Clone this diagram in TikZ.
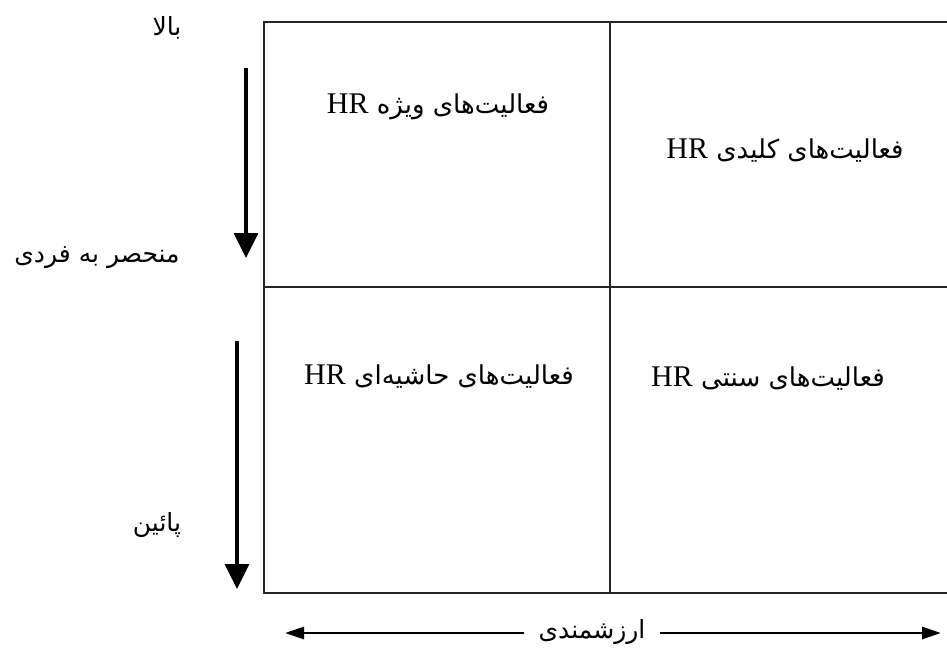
\documentclass[tikz,border=0pt]{standalone}
\usepackage{fontspec}
\setmainfont{Liberation Serif}
\newfontfamily\arabicfont[Script=Arabic]{DejaVu Sans}
\TeXXeTstate=1
\usetikzlibrary{arrows.meta}
\newcommand{\hrtag}{\beginL{\rmfamily\fontsize{30}{34}\selectfont HR}\endL}
\tikzset{
  grid line/.style={line width=1.8pt, draw=black!85},
  big arrow/.style={line width=3.4pt, -{Triangle[length=25pt,width=24pt]}},
  axis arrow/.style={line width=2.8pt, -{Triangle[length=19pt,width=12pt]}},
  celltext/.style={font=\fontsize{26}{32}\selectfont, inner sep=0pt},
  sidelabel/.style={font=\arabicfont\fontsize{25}{30}\selectfont, inner sep=0pt},
}
\begin{document}
\begin{tikzpicture}[x=1pt,y=-1pt]
\useasboundingbox (0,0) rectangle (947,654);
% grid
\coordinate (tl) at (264,22);
\coordinate (tr) at (947,22);
\coordinate (bl) at (264,593);
\coordinate (br) at (947,593);
\coordinate (ml) at (264,287);
\coordinate (mr) at (947,287);
\coordinate (mt) at (610,22);
\coordinate (mb) at (610,593);
\draw[grid line] (tr) -- (tl) -- (bl) -- (br);
\draw[grid line] (ml) -- (mr);
\draw[grid line] (mt) -- (mb);
% cell texts
\node[celltext] (c1) at (438,107) {\arabicfont\beginR فعالیت‌های ویژه \hrtag\endR};
\node[celltext] (c2) at (785,151) {\arabicfont\beginR فعالیت‌های کلیدی \hrtag\endR};
\node[celltext] (c3) at (439,377) {\arabicfont\beginR فعالیت‌های حاشیه‌ای \hrtag\endR};
\node[celltext] (c4) at (768,379) {\arabicfont\beginR فعالیت‌های سنتی \hrtag\endR};
% side labels
\node[sidelabel] (up) at (167,28) {\beginR بالا\endR};
\node[sidelabel] (uniq) at (97,258) {\beginR منحصر به فردی\endR};
\node[sidelabel] (down) at (157,525) {\beginR پائین\endR};
% vertical arrows
\coordinate (a1s) at (246,68);
\coordinate (a1e) at (246,258);
\coordinate (a2s) at (237,341);
\coordinate (a2e) at (237,589);
\draw[big arrow] (a1s) -- (a1e);
\draw[big arrow] (a2s) -- (a2e);
% horizontal axis
\node[sidelabel] (val) at (592,632) {\beginR ارزشمندی\endR};
\coordinate (hl) at (285,633);
\coordinate (hr) at (941,633);
\draw[axis arrow] ([xshift=-14pt]val.west |- hl) -- (hl);
\draw[axis arrow] ([xshift=14pt]val.east |- hr) -- (hr);
\end{tikzpicture}
\end{document}
